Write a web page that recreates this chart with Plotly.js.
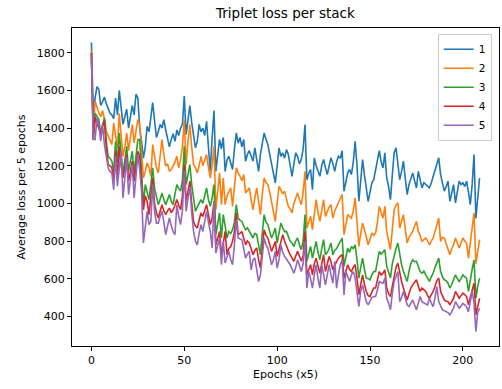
<!DOCTYPE html>
<html>
<head>
<meta charset="utf-8">
<script src="https://cdn.plot.ly/plotly-3.0.1.min.js"></script>
<style>html,body{margin:0;padding:0;background:#fff;}#chart{width:502px;height:389px;}</style>
</head>
<body>
<div id="chart"></div>
<script>
const seriesNames = ["1", "2", "3", "4", "5"];
const seriesColors = ["#1f77b4", "#ff7f0e", "#2ca02c", "#d62728", "#9467bd"];
const xTicks = [0, 50, 100, 150, 200];
const yTicks = [400, 600, 800, 1000, 1200, 1400, 1600, 1800];

const loss1 = [
1855,1480,1560,1620,1605,1520,1540,1565,1530,1500,
1480,1470,1450,1560,1470,1600,1500,1420,1460,1500,
1400,1450,1520,1470,1580,1560,1400,1330,1240,1300,
1410,1380,1450,1535,1440,1350,1380,1420,1400,1445,
1390,1350,1300,1340,1370,1330,1390,1360,1400,1420,
1570,1365,1450,1520,1430,1360,1295,1330,1420,1380,
1400,1360,1436,1300,1170,1350,1493,1170,1260,1340,
1290,1350,1170,1230,1250,1210,1180,1290,1374,1320,
1350,1300,1339,1224,1260,1280,1250,1224,1295,1230,
1170,1260,1320,1374,1340,1312,1260,1215,1160,1109,
1200,1295,1250,1268,1240,1286,1260,1200,1144,1210,
1268,1250,1210,1233,1290,1419,1126,1160,1180,1073,
1242,1200,1170,1144,1200,1233,1190,1153,1200,1242,
1210,1170,1220,1250,1240,1280,1065,1120,1162,1180,
1153,1220,1330,1200,1011,1120,1233,1150,1082,1011,
1060,1109,1126,1180,1230,1280,1220,1189,1268,1135,
1090,1020,1150,1268,1295,1210,1126,1170,1224,1130,
1047,1100,1130,1162,1120,1082,1170,1130,1082,1110,
1100,1090,1082,1110,1144,1180,1210,1242,1153,1110,
1065,1090,1118,1011,1060,1100,1003,1060,1118,1100,
1109,1090,1118,1060,993,1100,1260,920,1020,1135];

const loss2 = [
1812,1380,1543,1510,1480,1460,1493,1450,1383,1360,
1330,1312,1428,1350,1295,1477,1380,1250,1300,1374,
1280,1340,1419,1321,1390,1445,1419,1260,1135,1170,
1215,1190,1144,1312,1250,1190,1162,1260,1339,1260,
1198,1210,1170,1180,1198,1220,1250,1189,1230,1300,
1445,1206,1330,1419,1300,1206,1190,1162,1200,1250,
1200,1230,1260,1190,1135,1200,1303,966,1080,1162,
993,1135,993,1040,1060,1082,984,1100,1189,1160,
1144,1120,1153,1055,1070,1082,1020,966,1030,1082,
1010,940,1050,1135,1110,1100,1060,1011,960,904,
1000,1091,1070,1050,1065,1030,984,970,949,1000,
1030,1055,1020,993,1060,1170,869,900,931,860,
960,1020,950,904,960,1020,931,960,980,993,
922,960,980,1003,1020,1047,834,900,940,930,
922,960,1029,900,771,840,895,860,816,780,
810,842,830,842,900,984,950,922,984,851,
800,754,860,966,990,1003,869,900,940,860,
789,820,840,851,880,904,851,830,798,810,
816,800,780,800,816,850,880,922,798,820,
816,790,754,727,760,780,816,790,763,790,
816,800,789,709,780,860,949,680,740,807];

const loss3 = [
1790,1340,1480,1460,1445,1374,1420,1454,1330,1250,
1240,1224,1170,1330,1215,1374,1260,1162,1230,1303,
1170,1220,1277,1162,1250,1339,1339,1150,993,1100,
1060,1020,1100,1189,1080,1030,993,1020,1055,1020,
993,1020,1047,1010,993,1050,1100,1080,1065,1120,
1303,1100,1150,1206,1100,1011,958,980,1000,1020,
1000,1040,1082,1020,984,1029,1100,834,900,949,
816,940,880,816,850,840,860,900,993,922,
910,904,880,860,870,851,840,816,840,834,
780,727,840,940,900,887,850,816,840,869,
789,850,895,870,850,851,820,798,790,771,
800,816,780,754,800,940,692,730,771,709,
760,798,740,700,760,807,727,740,760,789,
727,750,760,780,800,816,665,720,763,740,
771,760,780,700,603,660,709,650,603,600,
594,620,638,638,700,745,730,745,754,665,
630,603,680,727,760,789,720,674,638,610,
585,640,680,700,690,692,660,638,629,640,
620,600,585,610,629,660,690,709,638,610,
594,590,576,550,570,594,620,600,585,600,
620,610,603,532,600,650,700,497,560,603];

const loss4 = [
1800,1340,1460,1420,1400,1370,1410,1440,1300,1206,
1200,1189,1118,1277,1135,1303,1200,1135,1190,1260,
1118,1170,1224,1118,1200,1277,1250,1100,966,1040,
1011,940,1030,1135,1000,950,922,960,993,960,
940,960,975,950,966,990,1020,990,966,1040,
1206,1011,1070,1118,1000,904,880,869,910,949,
930,960,993,940,887,922,1011,780,820,851,
727,800,851,727,760,770,798,850,949,834,
840,851,820,780,800,789,760,727,750,763,
700,656,760,860,830,816,780,745,770,798,
718,760,800,834,800,771,750,727,710,692,
720,745,720,692,720,851,620,650,674,620,
680,709,660,629,680,727,638,680,718,690,
647,670,690,709,720,727,603,640,674,650,
638,660,674,600,515,570,620,570,532,510,
505,530,550,550,600,638,620,629,647,550,
520,505,560,620,660,683,630,585,550,520,
487,520,550,567,580,594,560,532,550,540,
532,510,496,515,532,560,590,603,532,510,
487,480,478,461,480,496,532,510,496,510,
523,515,505,461,500,540,576,408,450,496];

const loss5 = [
1790,1339,1339,1454,1419,1330,1419,1312,1250,1189,
1170,1162,1073,1250,1091,1200,1277,1029,1150,1242,
1047,1120,1206,1029,1150,1260,1180,1065,790,880,
958,887,904,1100,960,895,895,930,958,900,
834,880,922,880,850,834,993,930,887,960,
1170,958,1020,1091,950,851,800,780,840,887,
851,900,958,900,851,763,1011,736,780,816,
674,798,683,720,745,700,674,780,913,816,
810,807,760,709,730,745,647,700,709,650,
585,620,720,816,780,763,720,674,700,745,
656,700,780,740,718,700,690,674,650,629,
660,700,670,638,680,798,550,638,600,550,
620,674,600,550,674,620,567,620,674,620,
576,692,550,620,674,700,514,638,610,585,
620,638,603,540,452,532,567,520,478,461,
480,500,505,505,540,585,580,576,603,496,
470,434,520,585,610,638,478,500,532,490,
461,452,470,487,460,434,470,505,478,470,
465,461,496,470,452,500,558,478,450,434,
430,425,420,408,430,443,478,460,443,455,
469,461,450,425,470,532,470,319,420,443];

const allSeries = [loss1, loss2, loss3, loss4, loss5];
const epochs = loss1.map((_, i) => i);

const traces = allSeries.map((ys, k) => ({
  x: epochs, y: ys, type: "scatter", mode: "lines", name: seriesNames[k],
  line: {color: seriesColors[k], width: 1.6}
}));

const allY = allSeries.flat();
const yMin = Math.min(...allY), yMax = Math.max(...allY);
const yPad = (yMax - yMin) * 0.05;
const xMax = epochs[epochs.length - 1];
const xPad = xMax * 0.05;

const font = {family: "DejaVu Sans, sans-serif", size: 11, color: "#000"};

const layout = {
  width: 502, height: 389,
  margin: {l: 72, r: 3, t: 28, b: 43, pad: 0},
  paper_bgcolor: "#fff", plot_bgcolor: "#fff",
  font: font,
  title: {text: "Triplet loss per stack", font: {family: "DejaVu Sans, sans-serif", size: 13.5, color: "#000"}, x: 0.5685, xanchor: "center", y: 0.965, yanchor: "middle"},
  xaxis: {
    range: [-xPad, xMax + xPad], tickvals: xTicks, ticktext: xTicks.map(String),
    ticks: "outside", ticklen: 4, tickcolor: "#000", showgrid: false, zeroline: false,
    showline: true, linecolor: "#000", linewidth: 1, mirror: true,
    tickfont: font,
    title: {text: "Epochs (x5)", font: font, standoff: 4}, automargin: false
  },
  yaxis: {
    range: [yMin - yPad, yMax + yPad], tickvals: yTicks, ticktext: yTicks.map(String),
    ticks: "outside", ticklen: 4, tickcolor: "#000", showgrid: false, zeroline: false,
    showline: true, linecolor: "#000", linewidth: 1, mirror: true,
    tickfont: font,
    title: {text: "Average loss per 5 epochs", font: font, standoff: 8}, automargin: false
  },
  legend: {
    x: 0.983, y: 0.982, xanchor: "right", yanchor: "top",
    bgcolor: "rgba(255,255,255,0.8)", bordercolor: "#cccccc", borderwidth: 1,
    font: {family: "DejaVu Sans, sans-serif", size: 10.5, color: "#000"},
    tracegroupgap: 0, itemwidth: 30
  },
  showlegend: true
};

Plotly.newPlot("chart", traces, layout, {displayModeBar: false, staticPlot: true});
</script>
</body>
</html>
